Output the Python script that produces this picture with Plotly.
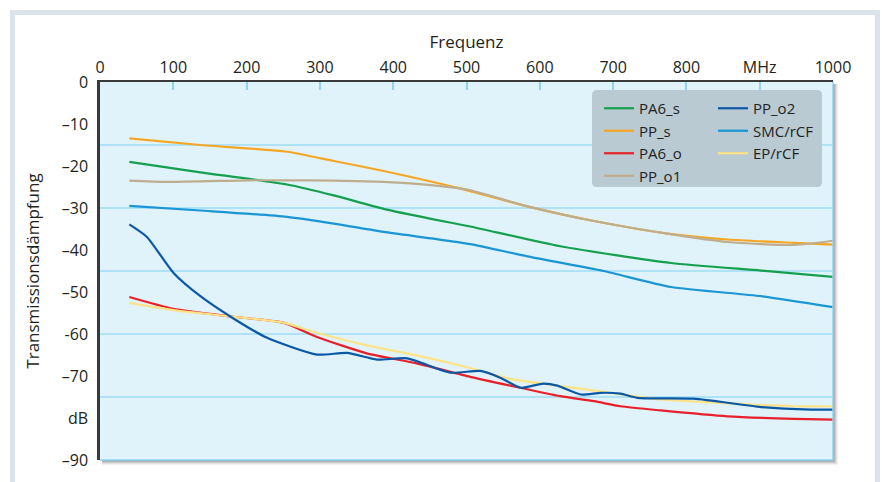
import plotly.graph_objects as go

# ---------------- data ----------------
f_PA6_s = [40, 137, 255, 319, 387, 455, 505, 628, 779, 902, 1000]
db_PA6_s = [-19.0, -21.5, -24.4, -27.0, -30.2, -32.7, -34.4, -39.1, -43.1, -44.9, -46.4]

f_PP_s = [40, 137, 255, 319, 387, 492, 583, 674, 774, 856, 947, 1000]
db_PP_s = [-13.4, -15.0, -16.6, -18.8, -21.2, -25.4, -29.6, -33.1, -36.1, -37.5, -38.3, -38.7]

f_PA6_o = [40, 100, 182, 250, 296, 364, 432, 505, 560, 628, 674, 710, 765, 856, 947, 1000]
db_PA6_o = [-51.2, -54.0, -55.9, -57.3, -60.7, -64.6, -67.0, -70.2, -72.3, -74.8, -76.0, -77.2, -78.2, -79.6, -80.2, -80.4]

f_PP_o1 = [40, 91, 205, 255, 319, 387, 455, 501, 583, 674, 774, 856, 947, 1000]
db_PP_o1 = [-23.5, -23.8, -23.4, -23.4, -23.5, -23.8, -24.6, -25.6, -29.6, -33.1, -36.1, -38.1, -38.8, -37.8]

f_PP_o2 = [40, 64, 100, 137, 182, 228, 296, 337, 378, 419, 478, 519, 546, 574, 605, 624, 656, 683, 710, 733, 810, 902, 970, 1000]
db_PP_o2 = [-33.9, -36.9, -45.4, -51.0, -56.3, -60.9, -64.9, -64.5, -66.1, -65.8, -69.2, -68.8, -70.4, -72.8, -71.8, -72.3, -74.4, -74.0, -74.2, -75.2, -75.4, -77.4, -78.0, -78.0]

f_SMC = [40, 137, 255, 319, 387, 455, 505, 583, 687, 779, 902, 1000]
db_SMC = [-29.5, -30.6, -32.1, -33.7, -35.7, -37.3, -38.6, -41.5, -45.0, -48.8, -51.0, -53.6]

f_EP = [40, 100, 182, 250, 296, 364, 432, 505, 560, 628, 697, 765, 856, 947, 1000]
db_EP = [-52.6, -54.3, -55.9, -57.3, -59.7, -62.7, -65.1, -68.1, -70.7, -72.4, -74.0, -75.6, -76.5, -77.2, -77.2]

x_tickvals = [0, 100, 200, 300, 400, 500, 600, 700, 800, 900, 1000]
x_ticktext = ["0", "100", "200", "300", "400", "500", "600", "700", "800", "MHz", "1000"]
y_tickvals = [0, -10, -20, -30, -40, -50, -60, -70, -80, -90]
y_ticktext = ["0", "\u201310", "\u201320", "\u201330", "\u201340", "\u201350", "-60", "\u201370", "dB", "\u201390"]
grid_vals = [-15, -30, -45, -60, -75]

FONT = "Open Sans"
TXT = "#231f20"
GRID = "#7fd0f3"

series = [
    ("PA6_s", f_PA6_s, db_PA6_s, "#14a04c", "legend"),
    ("PP_s", f_PP_s, db_PP_s, "#f6a623", "legend"),
    ("PA6_o", f_PA6_o, db_PA6_o, "#e8202a", "legend"),
    ("PP_o1", f_PP_o1, db_PP_o1, "#bfae8e", "legend"),
    ("EP/rCF", f_EP, db_EP, "#fde385", "legend2"),
    ("PP_o2", f_PP_o2, db_PP_o2, "#0b58a6", "legend2"),
    ("SMC/rCF", f_SMC, db_SMC, "#1996d3", "legend2"),
]

fig = go.Figure()
for name, fx, fy, col, lg in series:
    fig.add_trace(go.Scatter(
        x=fx, y=fy, name=name, mode="lines",
        line=dict(color=col, width=2.2, shape="spline", smoothing=0.6),
        legend=lg,
        legendrank={"PP_o2": 1, "SMC/rCF": 2, "EP/rCF": 3}.get(name, 1000),
    ))

# plot-area pixel geometry
L, R, T, B = 100, 833, 82, 460
W, H = 882, 482
pw, ph = R - L, B - T


def px(xp):
    return (xp - L) / pw


def py(yp):
    return (B - yp) / ph


shapes = []
# outer frame
shapes.append(dict(type="rect", xref="paper", yref="paper",
                   x0=px(12.5), x1=px(877.5), y0=py(495), y1=py(12.5),
                   line=dict(color="#dce4eb", width=5), fillcolor="rgba(0,0,0,0)", layer="below"))
# drop shadow strips (outside the plot area, right and bottom)
for off, a in [(5, 0.05), (4, 0.07), (3, 0.09), (2, 0.12), (1, 0.15)]:
    shapes.append(dict(type="rect", xref="paper", yref="paper",
                       x0=px(R), x1=px(R + off), y0=py(B + off), y1=py(T + 2),
                       line=dict(width=0), fillcolor=f"rgba(0,0,0,{a})", layer="below"))
    shapes.append(dict(type="rect", xref="paper", yref="paper",
                       x0=px(L + 2), x1=px(R), y0=py(B + off), y1=py(B),
                       line=dict(width=0), fillcolor=f"rgba(0,0,0,{a})", layer="below"))
# horizontal grid lines every 15 dB (through the y scale)
for g in grid_vals:
    shapes.append(dict(type="line", xref="x domain", yref="y", x0=0, x1=1, y0=g, y1=g,
                       line=dict(color=GRID, width=1.2), layer="below"))
# right/bottom light border
shapes.append(dict(type="path", xref="paper", yref="paper",
                   path="M1,1 L1,0 L0,0", line=dict(color="#8fd3f2", width=1.5), layer="above"))
# legend rounded background
x0, x1, y0, y1 = 592, 822, 90, 187
r = 5
rx, ry = r / pw, r / ph
X0, X1, Y0, Y1 = px(x0), px(x1), py(y1), py(y0)
path = (f"M{X0+rx},{Y1} L{X1-rx},{Y1} Q{X1},{Y1} {X1},{Y1-ry} "
        f"L{X1},{Y0+ry} Q{X1},{Y0} {X1-rx},{Y0} L{X0+rx},{Y0} "
        f"Q{X0},{Y0} {X0},{Y0+ry} L{X0},{Y1-ry} Q{X0},{Y1} {X0+rx},{Y1} Z")
shapes.append(dict(type="path", xref="paper", yref="paper", path=path,
                   fillcolor="#b9cad3", line=dict(width=0), layer="above"))

fig.update_layout(
    width=W, height=H,
    margin=dict(l=L, r=W - R, t=T, b=H - B, autoexpand=False),
    paper_bgcolor="white",
    plot_bgcolor="#e0f2fa",
    font=dict(family=FONT, color=TXT, size=16),
    showlegend=True,
    legend=dict(x=px(599), y=py(92), xanchor="left", yanchor="top",
                bgcolor="rgba(0,0,0,0)", font=dict(size=15, family=FONT, color=TXT),
                tracegroupgap=0, itemwidth=30),
    legend2=dict(x=px(713), y=py(92), xanchor="left", yanchor="top",
                 bgcolor="rgba(0,0,0,0)", font=dict(size=15, family=FONT, color=TXT),
                 tracegroupgap=0, itemwidth=30, traceorder="normal"),
    xaxis=dict(range=[0, 1000], side="top", tickvals=x_tickvals, ticktext=x_ticktext,
               ticks="inside", ticklen=8, tickcolor="#8fd3f2", tickwidth=1.5,
               showgrid=False, zeroline=False, automargin=False,
               showline=True, linecolor="#3a3a3a", linewidth=2,
               tickfont=dict(size=16), ticklabelstandoff=1,
               title=dict(text="Frequenz", font=dict(size=17), standoff=3)),
    yaxis=dict(range=[-90, 0], tickvals=y_tickvals, ticktext=y_ticktext,
               showgrid=False, zeroline=False, ticks="", automargin=False,
               showline=True, linecolor="#3a3a3a", linewidth=2.5,
               tickfont=dict(size=16), ticklabelstandoff=6,
               title=dict(text="Transmissionsdämpfung", font=dict(size=17), standoff=18)),
    shapes=shapes,
)

fig.write_html("out.html", config={"displayModeBar": False},
               post_script="document.body.style.margin='0';")
